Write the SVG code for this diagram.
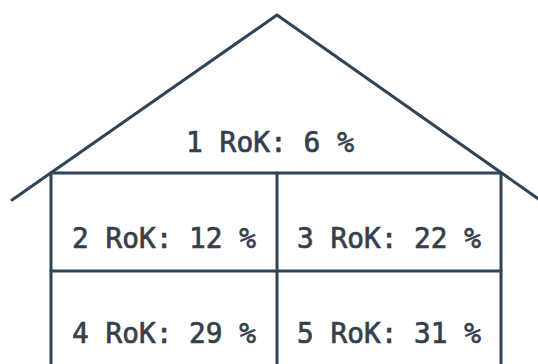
<svg xmlns="http://www.w3.org/2000/svg" width="538" height="364" viewBox="0 0 538 364">
<style>
.ln{fill:none;stroke:#2f4456;stroke-width:3;stroke-linecap:round;stroke-linejoin:round}
.t{font-family:"DejaVu Sans Mono","Liberation Mono",monospace;font-size:29px;fill:#363f4a;text-anchor:middle;stroke:#363f4a;stroke-width:0.7}
</style>
<rect width="538" height="364" fill="#ffffff"/>
<g id="house-outline">
<polyline class="ln" points="12,200 277,15 540,200"/>
<line class="ln" x1="51" y1="173" x2="51" y2="366"/>
<line class="ln" x1="501" y1="173" x2="501" y2="366"/>
<line class="ln" x1="51" y1="173" x2="501" y2="173"/>
<line class="ln" x1="51" y1="271" x2="501" y2="271"/>
<line class="ln" x1="277" y1="173" x2="277" y2="366"/>
</g>
<g id="rok1"><text class="t" x="270" y="152" textLength="168" lengthAdjust="spacingAndGlyphs">1 RoK: 6 %</text></g>
<g id="rok2"><text class="t" x="164" y="248" textLength="184" lengthAdjust="spacingAndGlyphs">2 RoK: 12 %</text></g>
<g id="rok3"><text class="t" x="389" y="248" textLength="184" lengthAdjust="spacingAndGlyphs">3 RoK: 22 %</text></g>
<g id="rok4"><text class="t" x="164" y="343" textLength="184" lengthAdjust="spacingAndGlyphs">4 RoK: 29 %</text></g>
<g id="rok5"><text class="t" x="389" y="343" textLength="184" lengthAdjust="spacingAndGlyphs">5 RoK: 31 %</text></g>
</svg>
